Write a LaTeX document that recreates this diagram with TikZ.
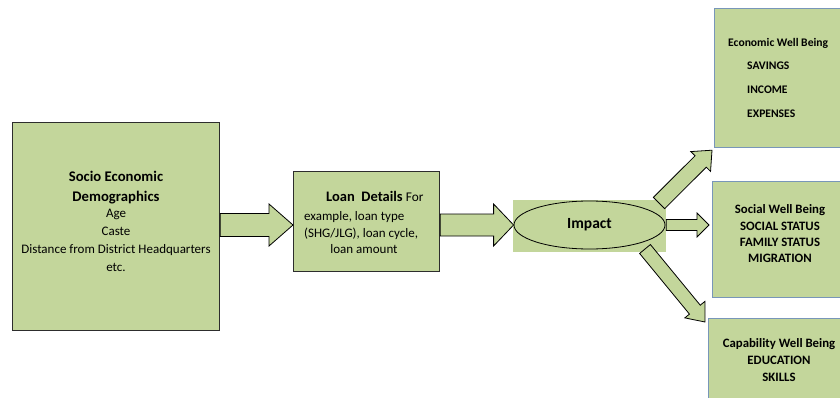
\documentclass[tikz,border=0pt]{standalone}
\usepackage{fontspec}
\setmainfont{Carlito}
\usetikzlibrary{calc,shapes.geometric}
\definecolor{boxgreen}{RGB}{195,214,155}
\definecolor{rborder}{RGB}{120,150,185}
\definecolor{lborder}{RGB}{45,45,45}
\tikzset{
  lbox/.style={draw=lborder, line width=1.2pt, fill=boxgreen, inner sep=0, anchor=north west},
  rbox/.style={draw=rborder, line width=1.2pt, fill=boxgreen, inner sep=0, anchor=north west},
  fatarr/.style={draw=black, line width=0.8pt, fill=boxgreen, line join=miter},
  txt/.style={inner sep=0, anchor=base},
  ttl/.style={txt, font=\fontsize{14.7}{17}\selectfont\bfseries},
  bod/.style={txt, font=\fontsize{13}{15}\selectfont},
  etx/.style={txt, font=\fontsize{11.6}{13}\selectfont\bfseries},
  rtx/.style={txt, font=\fontsize{12.8}{15}\selectfont\bfseries},
}
\newcommand\fatarrow[5]{%
  \path ($(#2)!#5!(#1)$) coordinate (fahb);
  \draw[fatarr] ($(#1)!#3!90:(#2)$) -- ($(fahb)!#3!90:(#2)$) -- ($(fahb)!#4!90:(#2)$)
    -- (#2) -- ($(fahb)!#4!-90:(#2)$) -- ($(fahb)!#3!-90:(#2)$) -- ($(#1)!#3!-90:(#2)$) -- cycle;
}
\begin{document}
\begin{tikzpicture}[x=1pt,y=-1pt]
\useasboundingbox (0,0) rectangle (840,398);
\fill[white] (0,0) rectangle (840,398);
\clip (0,0) rectangle (840,398);
% boxes
\node[lbox, minimum width=207pt, minimum height=208pt] (sed) at (12,122) {};
\node[lbox, minimum width=146pt, minimum height=100pt] (loan) at (293,171) {};
\node[rbox, minimum width=140pt, minimum height=139pt] (econ) at (714,8) {};
\node[rbox, minimum width=140pt, minimum height=116pt] (soc) at (712,181) {};
\node[rbox, minimum width=140pt, minimum height=100pt] (cap) at (708,318) {};
% impact
\node[fill=boxgreen, inner sep=0, minimum width=153pt, minimum height=52pt] (imp) at (589.5,226) {};
\node[ellipse, draw=black, line width=0.8pt, fill=boxgreen, inner sep=0,
      minimum width=151pt, minimum height=48pt, font=\fontsize{15.5}{18}\selectfont\bfseries]
      (impe) at (589.5,225) {Impact};
% left texts
\node[ttl] (t1) at (116,182) {Socio Economic};
\node[ttl] (t2) at (116,201) {Demographics};
\node[bod] (t3) at (116,218) {Age};
\node[bod] (t4) at (116,235) {Caste};
\node[bod] (t5) at (116,253) {Distance from District Headquarters};
\node[bod] (t6) at (116,271) {etc.};
% loan texts
\node[txt, anchor=base west] (l1) at (326,201) {\fontsize{14.5}{17}\selectfont\bfseries Loan\ \ Details \mdseries\fontsize{13.3}{15}\selectfont For};
\node[bod, anchor=base west] (l2) at (304,220) {example, loan type};
\node[bod, anchor=base west] (l3) at (304,237) {(SHG/JLG), loan cycle,};
\node[bod] (l4) at (364,253) {loan amount};
% economic
\node[etx, anchor=base west] (e1) at (728,47) {Economic Well Being};
\node[etx, anchor=base west] (e2) at (747,70) {SAVINGS};
\node[etx, anchor=base west] (e3) at (747,94) {INCOME};
\node[etx, anchor=base west] (e4) at (747,118) {EXPENSES};
% social
\node[rtx] (s1) at (780,213) {Social Well Being};
\node[rtx] (s2) at (780,230) {SOCIAL STATUS};
\node[rtx] (s3) at (780,246) {FAMILY STATUS};
\node[rtx] (s4) at (780,262) {MIGRATION};
% capability
\node[rtx] (c1) at (779,347) {Capability Well Being};
\node[rtx] (c2) at (779,364) {EDUCATION};
\node[rtx] (c3) at (779,381) {SKILLS};
% arrows
\coordinate (a1s) at (sed.east |- impe.center);
\coordinate (a1e) at (loan.west |- impe.center);
\coordinate (a2s) at (loan.east |- impe.center);
\coordinate (a2e) at (impe.west);
\coordinate (a3s) at (imp.east |- impe.center);
\coordinate (a3e) at ($(soc.west |- impe.center)+(-3,0)$);
\coordinate (a4s) at (659,203);
\coordinate (a4e) at ($(econ.south west)+(-2,2)$);
\coordinate (a5s) at (645,249);
\coordinate (a5e) at ($(cap.north west)+(-3,4)$);
\fatarrow{a1s}{a1e}{11.5pt}{21pt}{24pt}
\fatarrow{a2s}{a2e}{11pt}{21pt}{20pt}
\fatarrow{a3s}{a3e}{5.5pt}{12pt}{12pt}
\fatarrow{a4s}{a4e}{8pt}{14pt}{16pt}
\fatarrow{a5s}{a5e}{7pt}{13pt}{16pt}
\end{tikzpicture}
\end{document}
